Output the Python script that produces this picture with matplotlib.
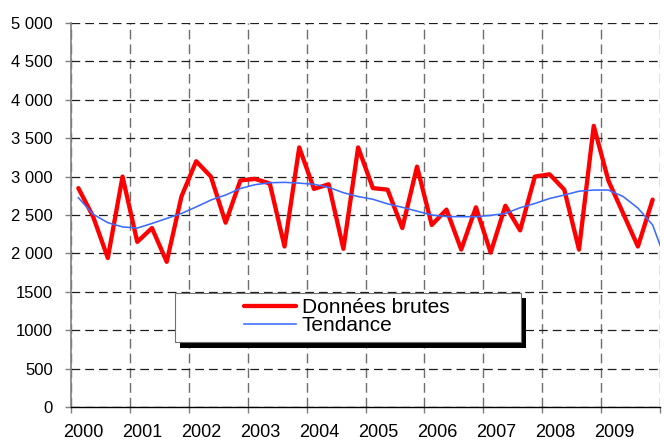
import numpy as np
import matplotlib
matplotlib.use('Agg')
import matplotlib.pyplot as plt
from matplotlib import font_manager
from matplotlib.patches import Rectangle

plt.rcParams['lines.scale_dashes'] = False

# ---------------- data ----------------
years = ['2000', '2001', '2002', '2003', '2004', '2005', '2006', '2007', '2008', '2009']
raw = [2850, 2480, 1940, 3000, 2150, 2330, 1890, 2740, 3200, 3000,
       2400, 2950, 2970, 2910, 2090, 3380, 2840, 2900, 2060, 3380,
       2850, 2830, 2330, 3130, 2370, 2570, 2050, 2600, 2010, 2620,
       2300, 3000, 3030, 2830, 2050, 3660, 2945, 2520, 2090, 2700]
trend = [2725, 2510, 2400, 2345, 2330, 2390, 2455, 2520, 2605, 2695,
         2760, 2845, 2895, 2920, 2925, 2915, 2900, 2860, 2790, 2740,
         2705, 2645, 2600, 2550, 2500, 2480, 2478, 2478, 2495, 2520,
         2595, 2650, 2715, 2760, 2810, 2825, 2825, 2740, 2590, 2370, 1850]
ytick_values = [0, 500, 1000, 1500, 2000, 2500, 3000, 3500, 4000, 4500, 5000]
ytick_labels = ['0', '500', '1000', '1500', '2 000', '2 500', '3 000',
                '3 500', '4 000', '4 500', '5 000']
series_labels = ['Données brutes', 'Tendance']

avail = {f.name for f in font_manager.fontManager.ttflist}
main_font = 'Liberation Sans' if 'Liberation Sans' in avail else 'DejaVu Sans'
narrow_font = 'Liberation Sans Narrow' if 'Liberation Sans Narrow' in avail else main_font

W, H = 664, 443
fig = plt.figure(figsize=(W / 100, H / 100), dpi=100)
ax = fig.add_axes([71 / W, 1 - 407 / H, 589 / W, 384 / H])

n_q = len(raw)
x_raw = np.arange(len(raw))
x_trend = np.arange(len(trend))

h1, = ax.plot(x_raw, raw, color='#ff0000', lw=3.1, solid_joinstyle='round',
              solid_capstyle='round', label=series_labels[0], zorder=3)
h2, = ax.plot(x_trend, trend, color='#3b6bff', lw=1.15, solid_joinstyle='round',
              label=series_labels[1], zorder=4)

ax.set_xlim(-0.5, n_q - 0.5)
ax.set_ylim(0, 5000)

# y axis
ax.set_yticks(ytick_values)
ax.set_yticklabels(ytick_labels, fontfamily=main_font, fontsize=12)
ax.tick_params(axis='y', direction='out', length=4.5, width=1.0, color='#808080', pad=8.5)

# x axis: year boundaries as major ticks, labels as minor
ax.set_xticks(np.arange(-0.5, n_q, 4))
ax.set_xticklabels([])
ax.set_xticks(np.arange(len(years)) * 4 + 0.37, minor=True)
ax.set_xticklabels(years, minor=True, fontfamily=narrow_font, fontsize=13)
ax.tick_params(axis='x', which='major', direction='out', length=4.5, width=1.0, color='#808080')
ax.tick_params(axis='x', which='minor', length=0, pad=12.5)

# grid
ax.yaxis.grid(True, color='#1e1e1e', linewidth=0.9, linestyle=(0, (6.3, 3.6)))
ax.xaxis.grid(True, which='major', color='#6e6e6e', linewidth=1.0, linestyle=(0, (7.0, 3.6)))
ax.set_axisbelow(True)

for s in ['top', 'right']:
    ax.spines[s].set_visible(False)
ax.spines['left'].set_color('#808080')
ax.spines['left'].set_linewidth(1.2)
ax.spines['bottom'].set_color('black')
ax.spines['bottom'].set_linewidth(1.0)

# legend box with hard black shadow
fig.add_artist(Rectangle((180 / W, 1 - 348 / H), (526 - 180) / W, (348 - 298) / H,
                         transform=fig.transFigure, facecolor='black', edgecolor='none', zorder=2))
fig.add_artist(Rectangle((175 / W, 1 - 342 / H), (521 - 175) / W, (342 - 293) / H,
                         transform=fig.transFigure, facecolor='white', edgecolor='#707070',
                         linewidth=0.8, zorder=3))
leg = fig.legend(handles=[h1, h2], loc='upper left', bbox_to_anchor=(243.5 / W, 1 - 298 / H),
                 bbox_transform=fig.transFigure, frameon=False, borderpad=0, borderaxespad=0,
                 handlelength=2.5, handletextpad=0.3, labelspacing=-0.05,
                 prop={'family': main_font, 'size': 15})
leg.set_zorder(5)

fig.savefig('out.png', dpi=100)
